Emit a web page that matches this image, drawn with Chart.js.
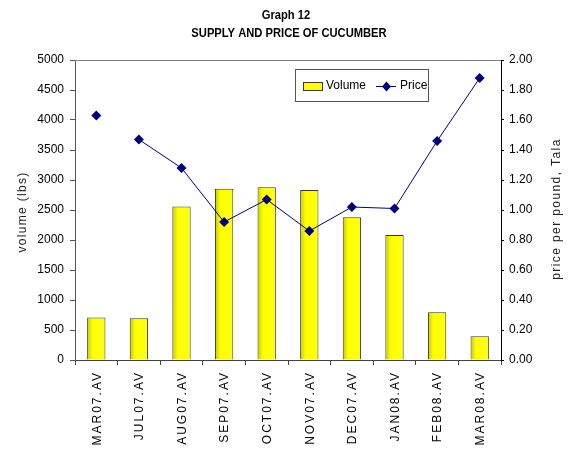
<!DOCTYPE html>
<html>
<head>
<meta charset="utf-8">
<script src="https://cdn.jsdelivr.net/npm/chart.js@4.4.1/dist/chart.umd.min.js"></script>
<style>
  html, body { margin: 0; padding: 0; background: #fff; }
  #wrap { width: 568px; height: 451px; }
</style>
</head>
<body>
<div id="wrap"><canvas id="c" width="568" height="451"></canvas></div>
<script>
const categories = ['MAR07.AV','JUL07.AV','AUG07.AV','SEP07.AV','OCT07.AV','NOV07.AV','DEC07.AV','JAN08.AV','FEB08.AV','MAR08.AV'];
const volume = [710, 695, 2560, 2855, 2880, 2835, 2380, 2085, 795, 395];
const price = [1.63, 1.47, 1.28, 0.92, 1.07, 0.86, 1.02, 1.01, 1.46, 1.88];
const titleLines = ['Graph 12', 'SUPPLY AND PRICE OF CUCUMBER'];
const leftTitle = 'volume (lbs)';
const rightTitle = 'price per pound, Tala';
const seriesNames = ['Volume', 'Price'];

const FONT = '"Liberation Sans", Arial, sans-serif';
const BAR_FILL = '#ffff00';
const BAR_EDGE = '#3a3a2a';
const LINE_COL = '#000080';
const BAR_PCT = 0.43;

function spaced(ctx, px) {
  if ('letterSpacing' in ctx) ctx.letterSpacing = px + 'px';
}

function barFill(c) {
  const chart = c.chart;
  const ca = chart.chartArea;
  const xs = chart.scales && chart.scales.x;
  if (!ca || !xs || c.dataIndex === undefined) return BAR_FILL;
  const cx = xs.getPixelForValue(c.dataIndex);
  if (!isFinite(cx)) return BAR_FILL;
  const w = (ca.right - ca.left) / categories.length * BAR_PCT;
  const g = chart.ctx.createLinearGradient(cx - w / 2, 0, cx + w / 2, 0);
  g.addColorStop(0, '#c8c800');
  g.addColorStop(0.3, '#ffff00');
  g.addColorStop(1, '#ffff10');
  return g;
}

const overlay = {
  id: 'overlay',
  afterDraw(chart) {
    const ctx = chart.ctx;
    const ca = chart.chartArea;
    const xs = chart.scales.x;
    ctx.save();
    // top border of plot area
    ctx.strokeStyle = '#808080';
    ctx.lineWidth = 1;
    ctx.beginPath();
    ctx.moveTo(ca.left, ca.top + 0.5);
    ctx.lineTo(ca.right, ca.top + 0.5);
    ctx.stroke();

    // title (condensed bold)
    ctx.fillStyle = '#000';
    ctx.textAlign = 'center';
    ctx.textBaseline = 'middle';
    ctx.font = 'bold 13px ' + FONT;
    [[titleLines[0], 286, 15], [titleLines[1], 289, 33]].forEach(([t, x, y]) => {
      ctx.save();
      ctx.translate(x, y);
      ctx.scale(0.86, 1);
      ctx.fillText(t, 0, 0);
      ctx.restore();
    });

    // x labels (rotated, letter spaced)
    ctx.font = '12px ' + FONT;
    ctx.fillStyle = '#000';
    categories.forEach((lab, i) => {
      const x = xs.getPixelForValue(i);
      ctx.save();
      ctx.translate(x + 1, ca.bottom + 11);
      ctx.rotate(-Math.PI / 2);
      spaced(ctx, 2);
      ctx.textAlign = 'right';
      ctx.textBaseline = 'middle';
      ctx.fillText(lab, 0, 0);
      ctx.restore();
    });

    // axis titles
    ctx.fillStyle = '#222';
    ctx.save();
    ctx.translate(23, 212);
    ctx.rotate(-Math.PI / 2);
    spaced(ctx, 1.3);
    ctx.textAlign = 'center';
    ctx.textBaseline = 'middle';
    ctx.fillText(leftTitle, 0, 0);
    ctx.restore();

    ctx.save();
    ctx.translate(557, 209);
    ctx.rotate(-Math.PI / 2);
    spaced(ctx, 1.4);
    ctx.textAlign = 'center';
    ctx.textBaseline = 'middle';
    ctx.fillText(rightTitle, 0, 0);
    ctx.restore();

    // legend box
    const lx = 295, ly = 69, lw = 133, lh = 32;
    ctx.fillStyle = '#fff';
    ctx.fillRect(lx, ly, lw, lh);
    ctx.strokeStyle = '#555';
    ctx.lineWidth = 1;
    ctx.strokeRect(lx + 0.5, ly + 0.5, lw, lh);
    // volume swatch
    ctx.fillStyle = BAR_FILL;
    ctx.fillRect(303, 82, 19, 8);
    ctx.strokeStyle = BAR_EDGE;
    ctx.strokeRect(303.5, 82.5, 19, 8);
    ctx.fillStyle = '#000';
    ctx.font = '12px ' + FONT;
    ctx.textAlign = 'left';
    ctx.textBaseline = 'middle';
    ctx.fillText(seriesNames[0], 326, 86);
    // price line swatch
    ctx.strokeStyle = LINE_COL;
    ctx.beginPath();
    ctx.moveTo(376, 86.5);
    ctx.lineTo(396, 86.5);
    ctx.stroke();
    ctx.fillStyle = LINE_COL;
    ctx.beginPath();
    ctx.moveTo(386.5, 81.5);
    ctx.lineTo(391, 86.5);
    ctx.lineTo(386.5, 91.5);
    ctx.lineTo(382, 86.5);
    ctx.closePath();
    ctx.fill();
    ctx.fillStyle = '#000';
    ctx.fillText(seriesNames[1], 400, 86);
    ctx.restore();
  }
};

new Chart(document.getElementById('c'), {
  type: 'bar',
  data: {
    labels: categories,
    datasets: [
      {
        type: 'line',
        label: seriesNames[1],
        data: price,
        yAxisID: 'y1',
        borderColor: LINE_COL,
        backgroundColor: LINE_COL,
        borderWidth: 1,
        pointStyle: 'rectRot',
        pointRadius: 5,
        pointBorderWidth: 0,
        pointBackgroundColor: LINE_COL,
        tension: 0,
        order: 0,
        segment: {
          borderColor: c => c.p0DataIndex === 0 ? 'rgba(0,0,0,0)' : LINE_COL
        }
      },
      {
        type: 'bar',
        label: seriesNames[0],
        data: volume,
        yAxisID: 'y',
        backgroundColor: barFill,
        borderColor: BAR_EDGE,
        borderWidth: 1,
        barPercentage: BAR_PCT,
        categoryPercentage: 1.0,
        order: 1
      }
    ]
  },
  options: {
    responsive: false,
    animation: false,
    devicePixelRatio: 1,
    layout: { padding: { top: 60, left: 0, right: 0, bottom: 0 } },
    plugins: { legend: { display: false }, title: { display: false }, tooltip: { enabled: false } },
    scales: {
      x: {
        offset: true,
        grid: { offset: true, drawOnChartArea: false, drawTicks: true, tickLength: 5, color: '#444' },
        border: { display: true, color: '#444', width: 1 },
        ticks: { display: false },
        afterFit: s => { s.height = 91; }
      },
      y: {
        position: 'left',
        min: 0, max: 5000,
        ticks: { stepSize: 500, padding: 6, color: '#000', font: { family: FONT, size: 12 },
                 callback: v => String(v) },
        grid: { drawOnChartArea: false, drawTicks: true, tickLength: 5, color: '#555' },
        border: { display: true, color: '#555', width: 1 },
        afterFit: s => { s.width = 75; }
      },
      y1: {
        position: 'right',
        min: 0, max: 2,
        ticks: { stepSize: 0.2, padding: 5, color: '#000', font: { family: FONT, size: 12 },
                 callback: v => Number(v).toFixed(2) },
        grid: { drawOnChartArea: false, drawTicks: true, tickLength: 3, color: '#000' },
        border: { display: true, color: '#000', width: 1 },
        afterFit: s => { s.width = 67; }
      }
    }
  },
  plugins: [overlay]
});
</script>
</body>
</html>
